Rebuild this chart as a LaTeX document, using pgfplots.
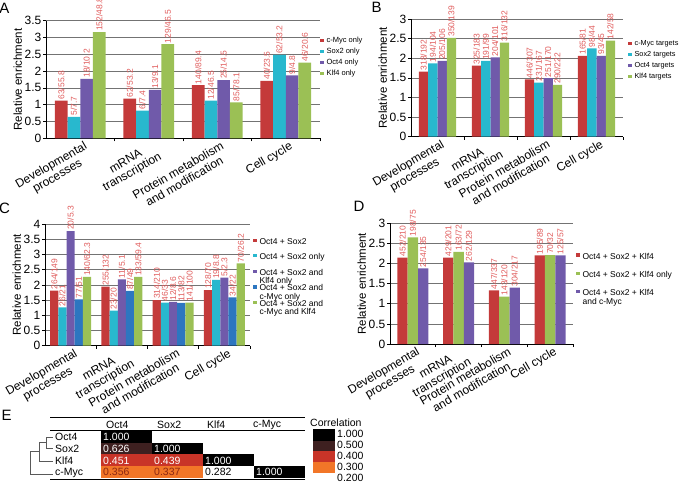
\documentclass[border=0pt]{standalone}
\usepackage{pgfplots}
\pgfplotsset{compat=1.18}
\usepackage{pgfplotstable}
\usepackage{fontspec}
\setmainfont{Liberation Sans}

\definecolor{cred}{RGB}{196,58,58}
\definecolor{ccyan}{RGB}{40,184,206}
\definecolor{cpurp}{RGB}{112,90,170}
\definecolor{cgreen}{RGB}{155,192,85}
\definecolor{cblue}{RGB}{45,118,192}
\definecolor{lblred}{RGB}{224,92,92}
\definecolor{hdark}{RGB}{62,32,32}
\definecolor{hred}{RGB}{200,52,40}
\definecolor{horange}{RGB}{242,118,40}
\definecolor{htxt}{RGB}{140,40,20}

\pgfplotstableread{
x a la b lb c lc d ld
0 1.12 63/55.8 0.64 5/7.7 1.77 18/10.2 3.16 152/48.8
1 1.18 62/53.2 0.82 6/7.4 1.44 13/9.1 2.80 129/46.5
2 1.58 140/89.4 1.12 12/46.5 1.73 25/14.5 1.07 85/78.1
3 1.71 40/23.5 2.48 62/53.2 1.87 9/4.8 2.25 46/20.6
}\tA

\pgfplotstableread{
x a la b lb c lc d ld
0 1.66 318/192 1.87 194/104 1.93 205/106 2.52 350/139
1 1.81 325/183 1.93 191/99 2.02 204/101 2.40 316/132
2 1.46 446/307 1.38 231/167 1.49 251/170 1.32 290/222
3 2.06 165/81 2.25 98/44 2.06 93/45 2.45 142/58
}\tB

\pgfplotstableread{
x a la b lb c lc d ld e le
0 1.81 264/149 1.26 26/21 3.77 20/5.3 1.52 77/51 2.26 140/62.3
1 1.94 255/132 1.15 23/20 2.18 11/5.1 1.80 87/49 2.26 133/59.4
2 1.50 314/210 1.42 46/33 1.44 12/8.6 1.41 113/82 1.42 141/100
3 1.83 128/70 2.16 19/8.8 2.24 5/2.3 1.59 34/22 2.71 70/26.2
}\tC

\pgfplotstableread{
x a la b lb c lc
0 2.15 452/210 2.65 198/75 1.88 254/135
1 2.15 429/201 2.29 163/72 2.03 262/129
2 1.33 447/337 1.18 143/120 1.40 304/217
3 2.20 195/89 2.21 70/32 2.20 125/57
}\tD

\pgfplotsset{
  panel/.style={
    scale only axis, anchor=south west, clip=false,
    ybar=0pt, ymin=0, xmin=-0.5, xmax=3.5, enlargelimits=false,
    xtick={0,1,2,3},
    xticklabels={{Developmental\\processes},{mRNA\\transcription},{Protein metabolism\\and modification},{Cell cycle}},
    axis x line*=bottom, axis y line*=left,
    ymajorgrids, grid style={line width=0.6pt, color=black!55},
    axis line style={line width=0.7pt, black},
    tick align=outside,
    every major x tick/.append style={draw=none},
    minor xtick={0.5,1.5,2.5,3.5},
    minor tick length=3pt, major tick length=3pt,
    tick style={black, line width=0.6pt},
    xticklabel style={rotate=30, anchor=north east, align=center, font=\fontsize{12}{12.5}\selectfont, inner sep=1pt, xshift=4pt},
    yticklabel style={font=\fontsize{12}{12}\selectfont, inner sep=1.5pt},
    ylabel={Relative enrichment}, ylabel style={font=\fontsize{11.5}{11.5}\selectfont, inner sep=1pt},
    /pgf/number format/assume math mode=true,
    nodes near coords, point meta=explicit symbolic,
    every node near coord/.append style={rotate=90, anchor=west, font=\fontsize{8.5}{8.5}\selectfont, text=lblred, inner sep=1pt},
    legend cell align=left,
    legend style={draw=none, fill=none, anchor=north west, inner sep=0pt, column sep=2.5pt},
  },
  sqsh/.style={legend image code/.code={\fill[##1] (0pt,#1) ++(0pt,-1.7pt) rectangle ++(3.4pt,3.4pt);}},
}
\newcommand\lgtwo[2]{\begin{tabular}{@{}l@{}}\strut#1\\\strut#2\end{tabular}}
\newcommand\cell[5]{\addplot[fill=#1, draw=none] coordinates {(#2,#3) (#4,#3) (#4,#5) (#2,#5)} --cycle;}

\begin{document}
\begin{tikzpicture}
\useasboundingbox (0,0) rectangle (685pt,-484pt);

% ---------- panel E and letters (pixel frame) ----------
\begin{axis}[at={(0pt,-484pt)}, anchor=south west, scale only axis, width=685pt, height=484pt,
  xmin=0, xmax=685, ymin=0, ymax=484, y dir=reverse, hide axis, clip=false, enlargelimits=false]
% heatmap cells
\cell{black}{101}{431}{152}{442.7}
\cell{hdark}{101}{442.7}{152}{454.3}
\cell{black}{152}{442.7}{203}{454.3}
\cell{hred}{101}{454.3}{152}{465.8}
\cell{hred}{152}{454.3}{203}{465.8}
\cell{black}{203}{454.3}{253.5}{465.8}
\cell{horange}{101}{465.8}{152}{478}
\cell{horange}{152}{465.8}{203}{478}
\cell{white}{203}{465.8}{253.5}{478}
\cell{black}{253.5}{465.8}{305}{478}
% colour bar
\cell{black}{312.7}{429}{335}{440.7}
\cell{hdark}{312.7}{440.7}{335}{450.7}
\cell{hred}{312.7}{450.7}{335}{461.7}
\cell{horange}{312.7}{461.7}{335}{473.3}
% table rules
\addplot[black, line width=1pt] coordinates {(50,417.3) (305,417.3)};
\addplot[black, line width=0.8pt] coordinates {(50,430.6) (305,430.6)};
\addplot[black, line width=1.8pt] coordinates {(50,479.4) (305,479.4)};
% dendrogram
\addplot[black!65, line width=0.7pt] coordinates {(53,437) (46.5,437) (46.5,448.5) (53,448.5)};
\addplot[black!65, line width=0.7pt] coordinates {(46.5,442.7) (39.5,442.7) (39.5,461) (53,461)};
\addplot[black!65, line width=0.7pt] coordinates {(39.5,451.8) (30,451.8) (30,474) (53,474)};
% texts
\begin{scope}[every node/.style={font=\fontsize{10.5}{10.5}\selectfont, anchor=west, inner sep=0pt}]
\node at (axis cs:106,425) {Oct4};
\node at (axis cs:157,425) {Sox2};
\node at (axis cs:207,425) {Klf4};
\node at (axis cs:253,425) {c-Myc};
\node at (axis cs:55,437) {Oct4};
\node at (axis cs:55,448.5) {Sox2};
\node at (axis cs:55,460.5) {Klf4};
\node at (axis cs:55,473) {c-Myc};
\node[text=white] at (axis cs:103,437.3) {1.000};
\node[text=white] at (axis cs:103,449) {0.626};
\node[text=white] at (axis cs:154,449) {1.000};
\node[text=white] at (axis cs:103,460.5) {0.451};
\node[text=white] at (axis cs:154,460.5) {0.439};
\node[text=white] at (axis cs:205,460.5) {1.000};
\node[text=htxt] at (axis cs:103,472.3) {0.356};
\node[text=htxt] at (axis cs:154,472.3) {0.337};
\node[text=black] at (axis cs:205,472.3) {0.282};
\node[text=white] at (axis cs:256,472.3) {1.000};
\node at (axis cs:310,422.3) {Correlation};
\node at (axis cs:337,433.7) {1.000};
\node at (axis cs:337,445) {0.500};
\node at (axis cs:337,456) {0.400};
\node at (axis cs:337,467) {0.300};
\node at (axis cs:337,478) {0.200};
\end{scope}
\begin{scope}[every node/.style={font=\fontsize{15}{15}\selectfont, inner sep=0pt}]
\node at (axis cs:4.5,8) {A};
\node at (axis cs:376.7,7.5) {B};
\node at (axis cs:4.5,208) {C};
\node at (axis cs:359,206.3) {D};
\node at (axis cs:6.7,415) {E};
\end{scope}
\end{axis}

% ---------- panel A ----------
\begin{axis}[panel, at={(46pt,-138.3pt)}, width=274pt, height=117.6pt,
  ymax=3.5, ytick={0,0.5,1,1.5,2,2.5,3,3.5}, bar width=0.185,
  legend style={at={(1,0.866)}, font=\fontsize{7.5}{8}\selectfont, row sep=3pt,
    nodes={text height=5.5pt, text depth=1.5pt, inner sep=0.5pt}}]
\addplot[fill=cred, draw=none, sqsh=0pt] table[x=x,y=a,meta=la]{\tA};
\addlegendentry{c-Myc only}
\addplot[fill=ccyan, draw=none, sqsh=0pt] table[x=x,y=b,meta=lb]{\tA};
\addlegendentry{Sox2 only}
\addplot[fill=cpurp, draw=none, sqsh=0pt] table[x=x,y=c,meta=lc]{\tA};
\addlegendentry{Oct4 only}
\addplot[fill=cgreen, draw=none, sqsh=0pt] table[x=x,y=d,meta=ld]{\tA};
\addlegendentry{Klf4 only}
\end{axis}

% ---------- panel B ----------
\begin{axis}[panel, at={(411pt,-136.7pt)}, width=212pt, height=117.7pt,
  ymax=3, ytick={0,0.5,1,1.5,2,2.5,3}, bar width=0.175,
  legend style={at={(1,0.83)}, xshift=5pt, font=\fontsize{7.3}{8}\selectfont, row sep=3pt,
    nodes={text height=5.5pt, text depth=1.5pt, inner sep=0.5pt}}]
\addplot[fill=cred, draw=none, sqsh=0pt] table[x=x,y=a,meta=la]{\tB};
\addlegendentry{c-Myc targets}
\addplot[fill=ccyan, draw=none, sqsh=0pt] table[x=x,y=b,meta=lb]{\tB};
\addlegendentry{Sox2 targets}
\addplot[fill=cpurp, draw=none, sqsh=0pt] table[x=x,y=c,meta=lc]{\tB};
\addlegendentry{Oct4 targets}
\addplot[fill=cgreen, draw=none, sqsh=0pt] table[x=x,y=d,meta=ld]{\tB};
\addlegendentry{Klf4 targets}
\end{axis}

% ---------- panel C ----------
\begin{axis}[panel, at={(45pt,-345.7pt)}, width=205pt, height=121.7pt,
  ymax=4, ytick={0,0.5,1,1.5,2,2.5,3,3.5,4}, bar width=0.16,
  legend style={at={(1,0.885)}, xshift=3pt, font=\fontsize{8.5}{7}\selectfont, row sep=3pt,
    nodes={inner sep=0.5pt}}]
\addplot[fill=cred, draw=none, sqsh=3.5pt] table[x=x,y=a,meta=la]{\tC};
\addlegendentry{\lgtwo{Oct4 + Sox2}{}}
\addplot[fill=ccyan, draw=none, sqsh=3.5pt] table[x=x,y=b,meta=lb]{\tC};
\addlegendentry{\lgtwo{Oct4 + Sox2 only}{}}
\addplot[fill=cpurp, draw=none, sqsh=3.5pt] table[x=x,y=c,meta=lc]{\tC};
\addlegendentry{\lgtwo{Oct4 + Sox2 and}{Klf4 only}}
\addplot[fill=cblue, draw=none, sqsh=3.5pt] table[x=x,y=d,meta=ld]{\tC};
\addlegendentry{\lgtwo{Oct4 + Sox2 and}{c-Myc only}}
\addplot[fill=cgreen, draw=none, sqsh=3.5pt] table[x=x,y=e,meta=le]{\tC};
\addlegendentry{\lgtwo{Oct4 + Sox2 and}{c-Myc and Klf4}}
\end{axis}

% ---------- panel D ----------
\begin{axis}[panel, at={(390pt,-344pt)}, width=183pt, height=120.7pt,
  ymax=3, ytick={0,0.5,1,1.5,2,2.5,3}, bar width=0.225,
  legend style={at={(1,0.758)}, xshift=3pt, font=\fontsize{8.5}{8.7}\selectfont, row sep=5pt,
    nodes={inner sep=0.5pt}}]
\addplot[fill=cred, draw=none, sqsh=4.35pt] table[x=x,y=a,meta=la]{\tD};
\addlegendentry{\lgtwo{Oct4 + Sox2 + Klf4}{}}
\addplot[fill=cgreen, draw=none, sqsh=4.35pt] table[x=x,y=b,meta=lb]{\tD};
\addlegendentry{\lgtwo{Oct4 + Sox2 + Klf4 only}{}}
\addplot[fill=cpurp, draw=none, sqsh=4.35pt] table[x=x,y=c,meta=lc]{\tD};
\addlegendentry{\lgtwo{Oct4 + Sox2 + Klf4}{and c-Myc}}
\end{axis}
\end{tikzpicture}
\end{document}
